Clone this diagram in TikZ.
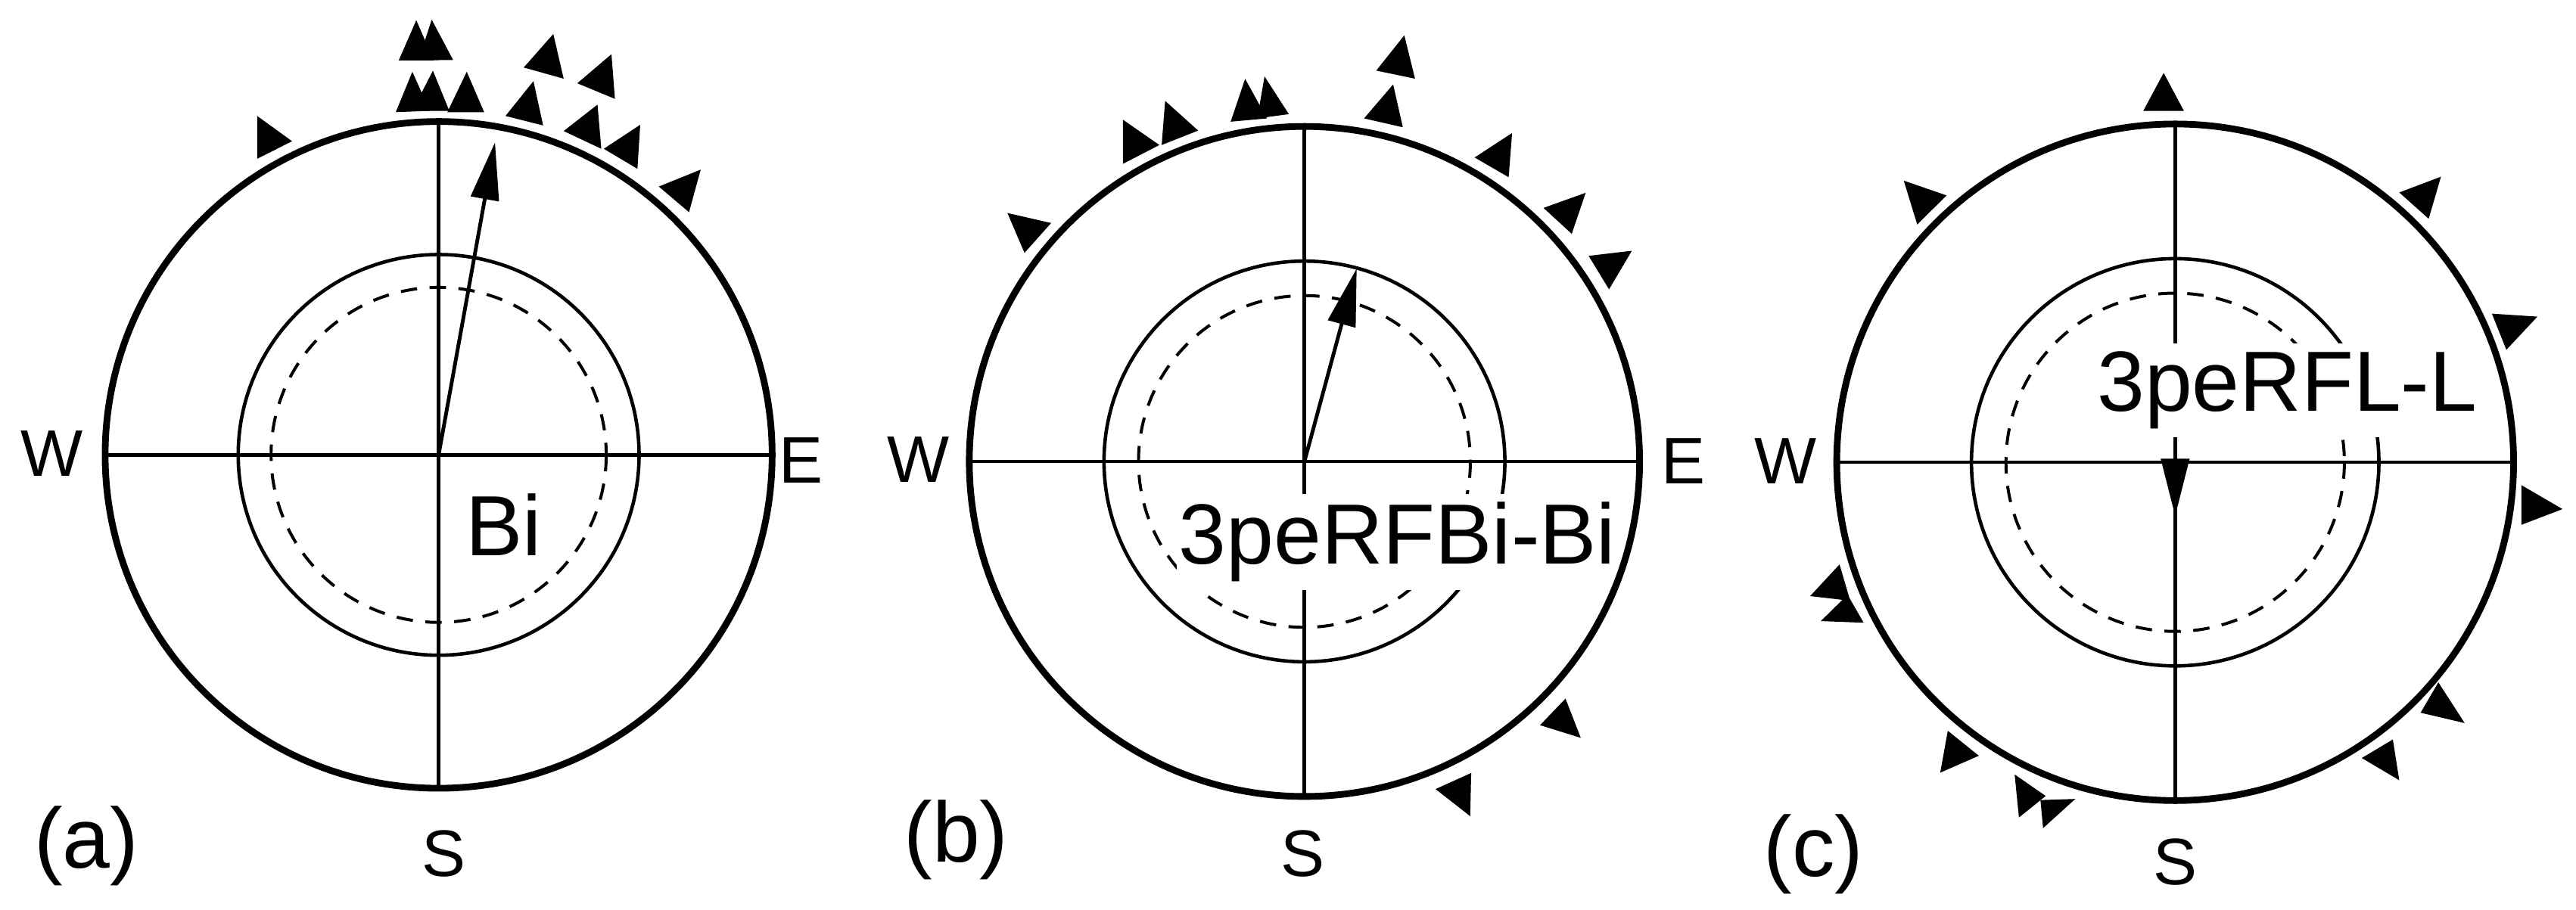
\documentclass[tikz,border=0pt]{standalone}
\usepackage{fontspec}
\setmainfont{Liberation Sans}
\usetikzlibrary{arrows.meta}
\begin{document}
\begin{tikzpicture}[x=0.05cm,y=-0.05cm,
  outer/.style={line width=5.8pt},
  thin/.style={line width=3pt},
  dashring/.style={line width=2.6pt,dash pattern=on 0.5cm off 0.38cm},
  vec/.style={line width=3.2pt,-{Triangle[length=1.75cm,width=0.85cm]}},
  big/.style={font=\fontsize{74}{80}\selectfont,inner sep=0pt},
  lab/.style={font=\fontsize{57}{62}\selectfont,inner sep=0pt},
  mask/.style={big,fill=white,inner xsep=2pt,inner ysep=0.25cm},
  tri/.style={fill=black}]
\useasboundingbox (0,0) rectangle (1568,554);
% ---------------- (a)
\coordinate (ca) at (267,277);
\coordinate (an) at (267,74); \coordinate (as) at (267,480);
\coordinate (aw) at (64,277); \coordinate (ae) at (470,277);
\coordinate (atip) at (301.3,86.7);
\draw[thin] (an) -- (as);
\draw[thin] (aw) -- (ae);
\draw[thin] (ca) circle[radius=122];
\draw[dashring] (ca) circle[radius=102];
\draw[outer] (ca) circle[radius=203];
\draw[vec] (ca) -- (atip);
\node[big,anchor=base west] (abi) at (283.4,338.3) {Bi};
\node[lab] (aW) at (31.5,276) {W};
\node[lab] (aE) at (487.5,280.5) {E};
\node[lab] (aS) at (270,520) {S};
\node[big] (alab) at (52.6,515) {(a)};
\fill[tri] (156.5,70.6)--(156.5,96.7)--(177.8,86)--cycle;
\fill[tri] (242.7,36.8)--(253.4,12.3)--(264,36.8)--cycle;
\fill[tri] (254.6,36.8)--(262.8,12)--(275.8,36.5)--cycle;
\fill[tri] (240.9,68.3)--(251,43.7)--(261.6,67.5)--cycle;
\fill[tri] (251,67.5)--(263.5,43)--(273.5,67.5)--cycle;
\fill[tri] (272.3,68.3)--(284.1,43.7)--(294.7,68.3)--cycle;
\fill[tri] (318.8,41.1)--(336.8,20.7)--(343.1,47.9)--cycle;
\fill[tri] (351.4,50.7)--(372.2,33)--(374.3,60.2)--cycle;
\fill[tri] (307.7,70.6)--(324.7,49.4)--(330.6,76.4)--cycle;
\fill[tri] (343.1,79.8)--(363.7,63.7)--(366,90.6)--cycle;
\fill[tri] (367.5,90.6)--(389.7,76)--(388,102.8)--cycle;
\fill[tri] (401,113.6)--(426.5,103.3)--(419.4,129.2)--cycle;
% ---------------- (b)
\coordinate (cb) at (794,281);
\coordinate (bn) at (794,77); \coordinate (bs) at (794,485);
\coordinate (bw) at (590,281); \coordinate (be) at (998,281);
\coordinate (btip) at (825.8,163.5);
\draw[thin] (bn) -- (bs);
\draw[thin] (bw) -- (be);
\draw[thin] (cb) circle[radius=122];
\draw[dashring] (cb) circle[radius=101];
\draw[vec] (cb) -- (btip);
\node[mask,anchor=base west] (btext) at (716,343.5) {3peRFBi-Bi};
\draw[outer] (cb) circle[radius=204];
\node[lab] (bW) at (559,280) {W};
\node[lab] (bE) at (1024.6,280.6) {E};
\node[lab] (bS) at (793,520) {S};
\node[big] (blab) at (582,511.6) {(b)};
\fill[tri] (613.2,129.7)--(639.8,135.8)--(623.6,154)--cycle;
\fill[tri] (683.5,72.9)--(683.5,99.8)--(705.7,88.3)--cycle;
\fill[tri] (709.2,61.4)--(707.1,88.3)--(729.3,79.5)--cycle;
\fill[tri] (749.1,74.1)--(757.9,48)--(771.2,72.1)--cycle;
\fill[tri] (765.3,72.1)--(769.7,46.5)--(784.5,69.5)--cycle;
\fill[tri] (830.3,72.1)--(848,51.4)--(853.9,77.5)--cycle;
\fill[tri] (837.7,43)--(854.8,21.5)--(861.3,47.9)--cycle;
\fill[tri] (897.6,95.9)--(920.4,81)--(918.3,107.9)--cycle;
\fill[tri] (939.5,126.6)--(965.2,117.4)--(956.7,142.4)--cycle;
\fill[tri] (967,155.8)--(993.3,152.7)--(979.4,176.2)--cycle;
\fill[tri] (937.4,441.6)--(952.9,425.4)--(962.2,449.3)--cycle;
\fill[tri] (873.8,480.5)--(895.5,470.7)--(894.9,497)--cycle;
% ---------------- (c)
\coordinate (cc) at (1324,281.5);
\coordinate (cn) at (1324,75); \coordinate (cs) at (1324,488);
\coordinate (cw) at (1118,281.5); \coordinate (ce) at (1530,281.5);
\coordinate (ctip) at (1324,314.3);
\draw[thin] (cn) -- (cs);
\draw[thin] (cw) -- (ce);
\draw[thin] (cc) circle[radius=124];
\draw[dashring] (cc) circle[radius=103];
\node[mask,anchor=base west] (ctext) at (1275,250.3) {3peRFL-L};
\draw[outer] (cc) circle[radius=206];
\draw[vec] (cc) -- (ctip);
\node[lab] (cW) at (1087,280.6) {W};
\node[lab] (cS) at (1324,525) {S};
\node[big] (clab) at (1104,520) {(c)};
\fill[tri] (1304.6,67.5)--(1317,44.4)--(1329.3,67.5)--cycle;
\fill[tri] (1158.8,110)--(1184.9,119)--(1167,136.7)--cycle;
\fill[tri] (1460.4,117.2)--(1485.8,107.6)--(1478.3,133.2)--cycle;
\fill[tri] (1516.8,191)--(1544.5,192.8)--(1525.6,213)--cycle;
\fill[tri] (1534.7,295.4)--(1559.8,310)--(1534.7,319.6)--cycle;
\fill[tri] (1484.2,415.5)--(1500.2,440.3)--(1473.4,434)--cycle;
\fill[tri] (1456.5,450.3)--(1460.4,475.1)--(1437.6,461.6)--cycle;
\fill[tri] (1185.6,445)--(1204.5,460.2)--(1181,470.5)--cycle;
\fill[tri] (1226.3,471.6)--(1245.2,484.7)--(1228.9,497.8)--cycle;
\fill[tri] (1242,487.2)--(1263.2,486.5)--(1243.6,504.3)--cycle;
\fill[tri] (1119.7,343.7)--(1101.8,363)--(1126.2,365.8)--cycle;
\fill[tri] (1108.3,378.2)--(1124.6,362.2)--(1134.4,379.2)--cycle;
\end{tikzpicture}
\end{document}
